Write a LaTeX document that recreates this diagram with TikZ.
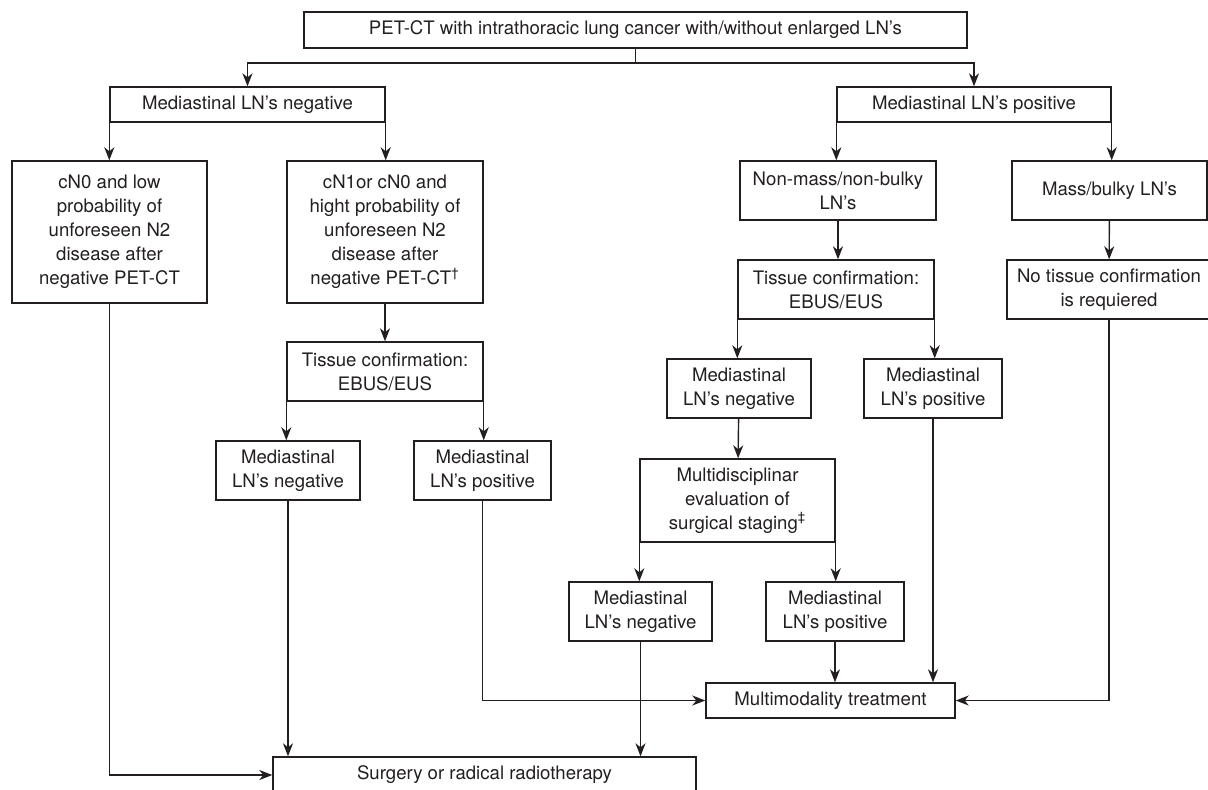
\documentclass[tikz,border=0pt]{standalone}
\usepackage{fontspec}
\setmainfont{TeX Gyre Heros}
\usetikzlibrary{arrows.meta}
\definecolor{ink}{HTML}{231F20}

\begin{document}
\begin{tikzpicture}[
      x=0.5pt, y=-0.5pt,
      stage/.style={draw=ink,text=ink,line width=0.7pt,align=center,inner sep=1pt,font=\fontsize{9.3}{12}\selectfont},
      flow/.style={-{Stealth[length=6.5pt,width=5pt,inset=2pt]},ink,line width=0.7pt},
      plain/.style={ink,line width=0.7pt}
    ]
      \useasboundingbox (0,0) rectangle (1208,789);
      % first level
      \node[stage,minimum width=331.5pt,minimum height=18pt] (petct) at (635.5,30) {PET-CT with intrathoracic lung cancer with/without enlarged LN’s};
      \node[stage,minimum width=137.5pt,minimum height=17.5pt] (medneg) at (247.5,104.5) {Mediastinal LN’s negative};
      \node[stage,minimum width=137pt,minimum height=17.5pt] (medpos) at (974,104.5) {Mediastinal LN’s positive};
      % negative branch
      \node[stage,minimum width=97.5pt,minimum height=71pt] (cnzero) at (109.5,232) {cN0 and low\\probability of\\unforeseen N2\\disease after\\negative PET-CT};
      \node[stage,minimum width=98pt,minimum height=71pt] (cnone) at (385,232) {cN1or cN0 and\\hight probability of\\unforeseen N2\\disease after\\negative PET-CT\textsuperscript{\textdagger}};
      \node[stage,minimum width=98pt,minimum height=29.5pt] (tissneg) at (385,371.5) {Tissue confirmation:\\EBUS/EUS};
      \node[stage,minimum width=72pt,minimum height=29.5pt] (negone) at (288,470.5) {Mediastinal\\LN’s negative};
      \node[stage,minimum width=68.5pt,minimum height=29.5pt] (posone) at (482.5,470.5) {Mediastinal\\LN’s positive};
      % positive branch
      \node[stage,minimum width=98pt,minimum height=29.5pt] (nonmass) at (838,190.5) {Non-mass/non-bulky\\LN’s};
      \node[stage,minimum width=97.5pt,minimum height=29.5pt] (mass) at (1109.5,190.5) {Mass/bulky LN’s};
      \node[stage,minimum width=98pt,minimum height=29.5pt] (tisspos) at (836,289.5) {Tissue confirmation:\\EBUS/EUS};
      \node[stage,minimum width=102pt,minimum height=29.5pt] (notiss) at (1109,289.5) {No tissue confirmation\\is requiered};
      \node[stage,minimum width=72pt,minimum height=29.5pt] (negtwo) at (739,388.5) {Mediastinal\\LN’s negative};
      \node[stage,minimum width=69pt,minimum height=29.5pt] (postwo) at (933,388.5) {Mediastinal\\LN’s positive};
      \node[stage,minimum width=97.5pt,minimum height=41.5pt] (multidisc) at (737.5,500.5) {Multidisciplinar\\evaluation of\\surgical staging\textsuperscript{\textdaggerdbl}};
      \node[stage,minimum width=71.5pt,minimum height=29.5pt] (negthree) at (640.5,611.5) {Mediastinal\\LN’s negative};
      \node[stage,minimum width=69pt,minimum height=29.5pt] (posthree) at (835,611.5) {Mediastinal\\LN’s positive};
      % outcomes
      \node[stage,minimum width=124.5pt,minimum height=17.5pt] (multimod) at (830.5,700.5) {Multimodality treatment};
      \node[stage,minimum width=211.5pt,minimum height=18pt] (surgery) at (484.5,775) {Surgery or radical radiotherapy};

      \coordinate (fork) at (635.5,63);
      \draw[plain] (petct.south) -- (fork);
      \draw[flow] (fork) -| (medneg.north);
      \draw[flow] (fork) -| (medpos.north);
      \draw[flow] (medneg.south west) -- (medneg.south west |- cnzero.north);
      \draw[flow] (medneg.south east) -- (medneg.south east |- cnone.north);
      \draw[flow] (cnone) -- (tissneg);
      \draw[flow] (tissneg.south west) -- (tissneg.south west |- negone.north);
      \draw[flow] (tissneg.south east) -- (tissneg.south east |- posone.north);
      \draw[flow] (medpos.south west) -- (medpos.south west |- nonmass.north);
      \draw[flow] (medpos.south east) -- (medpos.south east |- mass.north);
      \draw[flow] (nonmass.south) -- (nonmass.south |- tisspos.north);
      \draw[flow] (mass) -- (notiss);
      \draw[flow] (tisspos.south west) -- (tisspos.south west |- negtwo.north);
      \draw[flow] (tisspos.south east) -- (tisspos.south east |- postwo.north);
      \draw[flow] (negtwo) -- (multidisc);
      \draw[flow] (multidisc.south west) -- (multidisc.south west |- negthree.north);
      \draw[flow] (multidisc.south east) -- (multidisc.south east |- posthree.north);
      \draw[flow] (posthree.south) -- (posthree.south |- multimod.north);
      \draw[flow] (postwo.south) -- (postwo.south |- multimod.north);
      \draw[flow] (notiss.south) |- (multimod.east);
      \draw[flow] (posone.south) |- (multimod.west);
      \draw[flow] (negthree.south) -- (negthree.south |- surgery.north);
      \draw[flow] (negone.south) -- (negone.south |- surgery.north);
      \draw[flow] (cnzero.south) |- (surgery.west);
    \end{tikzpicture}
\end{document}
